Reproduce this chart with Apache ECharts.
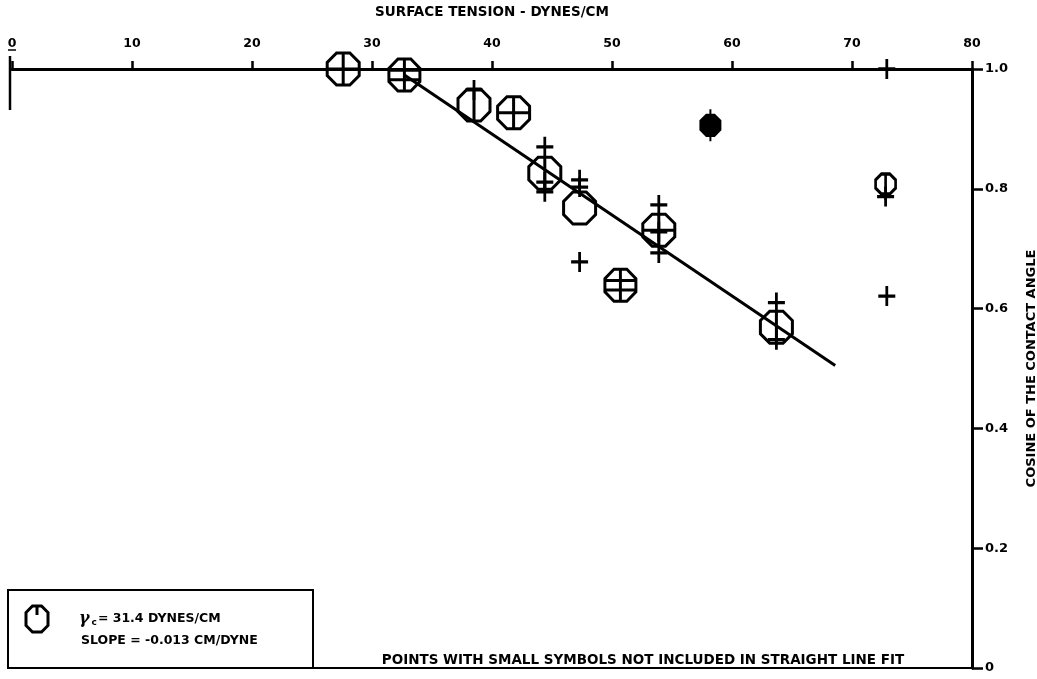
<!DOCTYPE html>
<html>
<head>
<meta charset="utf-8">
<script src="https://cdn.jsdelivr.net/npm/echarts@6/dist/echarts.min.js"></script>
<style>
html,body{margin:0;padding:0;background:#fff;}
#c{width:1037px;height:679px;}
</style>
</head>
<body>
<div id="c"></div>
<script>
// ---- data (surface tension dynes/cm, cosine of contact angle) ----
const xTicks = [0, 10, 20, 30, 40, 50, 60, 70, 80];
const yTicks = [0, 0.2, 0.4, 0.6, 0.8, 1.0];
const bigCrossPts = [[27.6, 1.0], [41.8, 0.927], [53.9, 0.731]];
const bigVertPts = [[38.5, 0.94], [44.4, 0.826], [63.7, 0.569]];
const bigPlainPts = [[47.3, 0.768]];
const bigBarsPts = [[32.7, 0.99], [50.7, 0.639]];
const smallFilledPts = [[58.2, 0.906]];
const smallPhiPts = [[72.8, 0.803]];
const plusPts = [
  [38.5, 0.965], [44.4, 0.87], [44.4, 0.811], [44.4, 0.795],
  [47.3, 0.815], [47.3, 0.803], [47.3, 0.678],
  [53.9, 0.773], [53.9, 0.728], [53.9, 0.693],
  [63.7, 0.61], [63.7, 0.548], [72.9, 1.0], [72.9, 0.621], [72.8, 0.787]
];
const fitLine = [[32.7, 0.99], [68.6, 0.505]];
const xTitle = 'SURFACE TENSION - DYNES/CM';
const yTitle = 'COSINE OF THE CONTACT ANGLE';
const noteText = 'POINTS WITH SMALL SYMBOLS NOT INCLUDED IN STRAIGHT LINE FIT';

const WIDE = '"DejaVu Sans", sans-serif';
const OCT = 'M-4.14,-10 L4.14,-10 L10,-4.14 L10,4.14 L4.14,10 L-4.14,10 L-10,4.14 L-10,-4.14 Z';
const symCross = 'path://' + OCT + ' M0,-10 L0,10 M-10,0 L10,0';
const symVert = 'path://' + OCT + ' M0,-10 L0,10';
const symPlain = 'path://' + OCT;
const symBars = 'path://' + OCT + ' M0,-10 L0,10 M-10,-3 L10,-3 M-10,3 L10,3';
const symFilled = 'path://' + OCT + ' M0,-16 L0,16';
const symPhi = 'path://' + OCT + ' M0,-10 L0,16';
const symPlus = 'path://M-8,0 L8,0 M0,-10 L0,10';

function scat(data, sym, size, fill, bw) {
  return {
    type: 'scatter', data: data, symbol: sym, symbolSize: size, z: 5,
    itemStyle: { color: fill, borderColor: '#000', borderWidth: bw, opacity: 1 },
    emphasis: { disabled: true }, silent: true
  };
}

const chart = echarts.init(document.getElementById('c'), null, { renderer: 'canvas' });
const ox = 37, oy = 619;
chart.setOption({
  animation: false,
  backgroundColor: '#fff',
  grid: { left: 12, right: 65, top: 69, bottom: 11, containLabel: false, outerBoundsMode: 'none' },
  xAxis: [{
    type: 'value', position: 'top', min: 0, max: 80, interval: 10,
    name: xTitle, nameLocation: 'middle', nameGap: 50,
    nameTextStyle: { color: '#000', fontFamily: WIDE, fontWeight: 'bold', fontSize: 13.5 },
    axisLine: { show: true, onZero: false, lineStyle: { color: '#000', width: 3 } },
    axisTick: { show: true, inside: false, length: 8, lineStyle: { color: '#000', width: 2.5 } },
    axisLabel: { margin: 19, color: '#000', fontFamily: WIDE, fontWeight: 'bold', fontSize: 12.5,
      formatter: v => xTicks.indexOf(v) >= 0 ? String(v) : '' },
    splitLine: { show: false }
  }, {
    type: 'value', position: 'bottom', min: 0, max: 80,
    axisLine: { show: true, onZero: false, lineStyle: { color: '#000', width: 2 } },
    axisTick: { show: false }, axisLabel: { show: false }, splitLine: { show: false }
  }],
  yAxis: [{
    type: 'value', position: 'right', min: 0, max: 1, interval: 0.2,
    name: yTitle, nameLocation: 'middle', nameGap: 53, nameRotate: 90,
    nameTextStyle: { color: '#000', fontFamily: WIDE, fontWeight: 'bold', fontSize: 13 },
    axisLine: { show: true, onZero: false, lineStyle: { color: '#000', width: 3 } },
    axisTick: { show: true, inside: false, length: 11, lineStyle: { color: '#000', width: 2.5 } },
    axisLabel: { margin: 13, color: '#000', fontFamily: WIDE, fontWeight: 'bold', fontSize: 13,
      formatter: v => yTicks.some(t => Math.abs(t - v) < 1e-9) ? (v === 0 ? '0' : v.toFixed(1)) : '' },
    splitLine: { show: false }
  }],
  series: [
    {
      type: 'line', data: fitLine, showSymbol: false, symbol: 'none', z: 3,
      lineStyle: { color: '#000', width: 3 }, silent: true
    },
    scat(bigCrossPts, symCross, [32, 32], 'rgba(0,0,0,0)', 3),
    scat(bigVertPts, symVert, [32, 32], 'rgba(0,0,0,0)', 3),
    scat(bigPlainPts, symPlain, [32, 32], 'rgba(0,0,0,0)', 3),
    scat(bigBarsPts, symBars, [31, 32], 'rgba(0,0,0,0)', 3),
    scat(smallFilledPts, symFilled, [20, 32], '#000', 2.5),
    scat(smallPhiPts, symPhi, [20, 26], 'rgba(0,0,0,0)', 3),
    scat(plusPts, symPlus, [17, 20], 'rgba(0,0,0,0)', 3)
  ],
  graphic: [
    { id: 'box', type: 'rect', shape: { x: 8, y: 590, width: 305, height: 78 },
      style: { fill: 'none', stroke: '#000', lineWidth: 2 }, z: 10 },
    { id: 'oct', type: 'polygon', shape: { points: [[ox - 4.5, oy - 13], [ox + 4.5, oy - 13], [ox + 11, oy - 6.5], [ox + 11, oy + 6.5], [ox + 4.5, oy + 13], [ox - 4.5, oy + 13], [ox - 11, oy + 6.5], [ox - 11, oy - 6.5]] },
      style: { fill: 'none', stroke: '#000', lineWidth: 3 }, z: 10 },
    { id: 'octstub', type: 'line', shape: { x1: ox, y1: oy - 13, x2: ox, y2: oy - 4 },
      style: { stroke: '#000', lineWidth: 3 }, z: 10 },
    { id: 'gam', type: 'text', x: 79, y: 610, z: 10,
      style: { text: '{g|γ}{s|c}{t|= 31.4 DYNES/CM}',
        rich: {
          g: { fontFamily: '"DejaVu Serif", serif', fontWeight: 'bold', fontStyle: 'italic', fontSize: 16, fill: '#000' },
          s: { fontFamily: WIDE, fontWeight: 'bold', fontSize: 9, fill: '#000', padding: [8, 1, 0, 2] },
          t: { fontFamily: WIDE, fontWeight: 'bold', fontSize: 12.5, fill: '#000' }
        } } },
    { id: 'slope', type: 'text', x: 81, y: 634, z: 10,
      style: { text: 'SLOPE = -0.013 CM/DYNE', fontFamily: WIDE, fontWeight: 'bold', fontSize: 12.5, fill: '#000' } },
    { id: 'note', type: 'text', x: 643, y: 660, z: 10,
      style: { text: noteText, fontFamily: WIDE, fontWeight: 'bold', fontSize: 13.5, fill: '#000', align: 'center', verticalAlign: 'middle' } }
  ]
});
// underline beneath the "0" tick label and the left stub, placed via the axis scale
const p0 = chart.convertToPixel({ xAxisIndex: 0 }, 0);
chart.setOption({
  graphic: [
    { id: 'ul', type: 'line', shape: { x1: p0 - 4, y1: 50, x2: p0 + 4, y2: 50 }, style: { stroke: '#000', lineWidth: 1.5 }, z: 10 },
    { id: 'stub', type: 'line', shape: { x1: p0 - 2, y1: 56, x2: p0 - 2, y2: 110 }, style: { stroke: '#000', lineWidth: 2.5 }, z: 10 }
  ]
});
</script>
</body>
</html>
